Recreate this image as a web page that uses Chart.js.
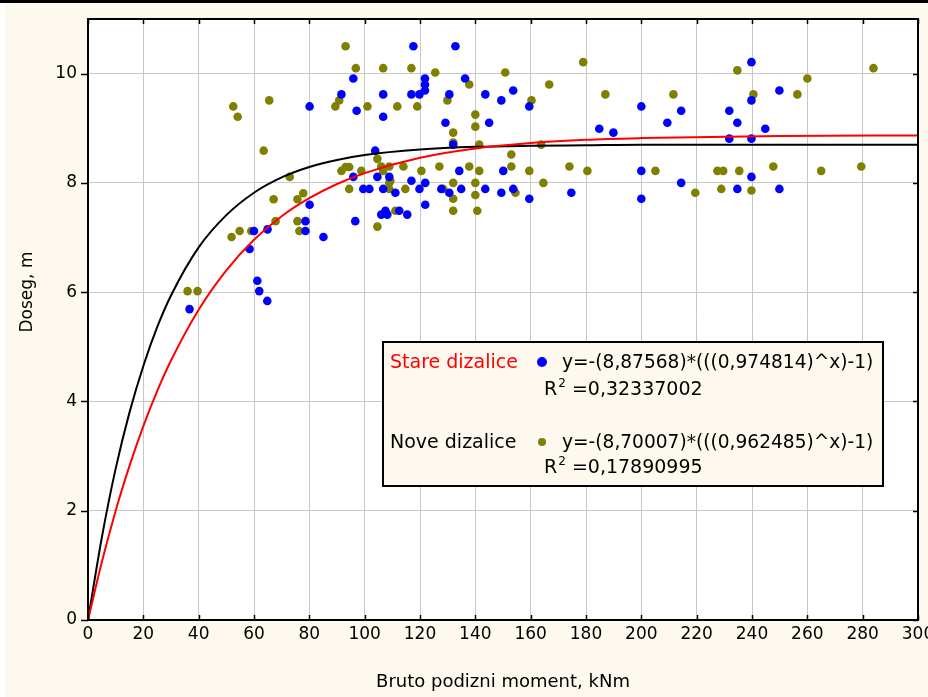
<!DOCTYPE html>
<html>
<head>
<meta charset="utf-8">
<script src="https://cdn.jsdelivr.net/npm/chart.js@4.4.1/dist/chart.umd.min.js"></script>
<style>
html, body { margin: 0; padding: 0; background: #fdf9ef; overflow: hidden; }
canvas { display: block; }
</style>
</head>
<body>
<canvas id="chart" width="928" height="697"></canvas>
<script>
// Stare dizalice (blue points)
var stareX = [95.9, 91.6, 80.1, 97.1, 95.9, 80.1, 78.6, 78.6, 85.1, 96.6, 60.0, 64.9, 58.4, 61.2, 61.9, 64.8, 36.7,
    117.6, 132.8, 121.8, 121.8, 121.8, 136.3, 106.7, 116.9, 119.8, 130.6, 143.6, 153.7, 149.4, 159.5, 106.7, 129.2, 145.0, 132.0, 103.8, 134.2, 150.1, 104.6, 108.9, 116.9, 121.9,
    99.5, 101.7, 106.7, 111.1, 119.8, 127.7, 130.6, 134.9, 143.6, 149.4, 153.7, 159.5, 121.9, 106.0, 107.5, 108.2, 112.5, 115.4,
    184.8, 189.9, 200.0, 209.4, 214.4, 200.0, 174.7, 200.0, 214.4,
    239.8, 249.9, 239.8, 231.8, 234.7, 244.8, 231.8, 239.8, 239.8, 234.7, 249.9];
var stareY = [9.91, 9.62, 9.40, 9.32, 8.11, 7.60, 7.30, 7.12, 7.01, 7.30, 7.12, 7.15, 6.79, 6.21, 6.02, 5.84, 5.69,
    10.50, 10.50, 9.91, 9.80, 9.69, 9.91, 9.62, 9.62, 9.62, 9.62, 9.62, 9.69, 9.51, 9.40, 9.21, 9.10, 9.10, 8.70, 8.59, 8.22, 8.22, 8.11, 8.11, 8.04, 8.00,
    7.89, 7.89, 7.89, 7.82, 7.89, 7.89, 7.82, 7.89, 7.89, 7.82, 7.89, 7.71, 7.60, 7.42, 7.49, 7.42, 7.49, 7.42,
    8.99, 8.92, 9.40, 9.10, 9.32, 8.22, 7.82, 7.71, 8.00,
    10.21, 9.69, 9.51, 9.32, 9.10, 8.99, 8.81, 8.81, 8.11, 7.89, 7.89];

// Nove dizalice (olive points)
var noveX = [93.1, 96.8, 52.5, 54.1, 65.5, 90.8, 89.4, 63.5, 72.9, 67.1, 75.7, 77.8, 91.6, 93.1, 94.4, 94.4, 67.8, 75.7, 76.4, 51.9, 54.8, 59.0, 36.0, 39.6,
    106.7, 116.9, 125.5, 150.8, 137.8, 129.9, 101.0, 111.8, 119.0, 160.3, 140.0, 140.0, 132.0, 132.0, 141.4, 153.0, 104.6, 153.0, 98.8, 106.0, 108.9, 106.7, 114.0, 120.5, 127.0, 137.8, 141.4, 159.5,
    108.9, 109.3, 108.9, 114.7, 128.4, 132.0, 132.0, 140.0, 140.0, 154.5, 111.1, 132.0, 140.7, 104.6,
    179.0, 166.7, 187.0, 211.6, 163.8, 174.0, 180.5, 205.1, 164.6, 219.5,
    234.7, 260.0, 283.9, 240.5, 256.4, 227.5, 229.6, 235.4, 247.7, 265.0, 279.5, 228.9, 239.8];
var noveY = [10.50, 10.10, 9.40, 9.21, 9.51, 9.51, 9.40, 8.59, 8.11, 7.70, 7.70, 7.81, 8.22, 8.29, 8.29, 7.89, 7.30, 7.30, 7.12, 7.01, 7.12, 7.12, 6.02, 6.02,
    10.10, 10.10, 10.02, 10.02, 9.80, 9.51, 9.40, 9.40, 9.40, 9.51, 9.25, 9.03, 8.92, 8.74, 8.70, 8.52, 8.44, 8.30, 8.22, 8.30, 8.30, 8.22, 8.30, 8.22, 8.30, 8.30, 8.22, 8.22,
    8.00, 8.04, 7.89, 7.89, 7.89, 8.00, 7.71, 8.00, 7.78, 7.82, 7.49, 7.49, 7.49, 7.20,
    10.21, 9.80, 9.62, 9.62, 8.70, 8.30, 8.22, 8.22, 8.00, 7.82,
    10.06, 9.91, 10.10, 9.62, 9.62, 8.22, 8.22, 8.22, 8.30, 8.22, 8.30, 7.89, 7.86];

// fitted curves, read along the red and black lines
var curveX     = [0, 5, 10, 15, 20, 25, 30, 40, 50, 60, 70, 80, 90, 100, 120, 140, 160, 180, 200, 250, 300];
var stareFitY  = [0, 1.06, 2.00, 2.82, 3.55, 4.19, 4.75, 5.68, 6.40, 6.96, 7.39, 7.72, 7.98, 8.18, 8.46, 8.63, 8.73, 8.79, 8.82, 8.86, 8.87];
var noveFitY   = [0, 1.51, 2.77, 3.80, 4.65, 5.36, 5.94, 6.82, 7.41, 7.82, 8.10, 8.29, 8.42, 8.51, 8.61, 8.66, 8.68, 8.69, 8.70, 8.70, 8.70];

var seriesNames = ['Stare dizalice', 'Nove dizalice'];
var equations = ['y=-(8,87568)*(((0,974814)^x)-1)', 'y=-(8,70007)*(((0,962485)^x)-1)'];
var r2Values = ['0,32337002', '0,17890995'];

var xTitle = 'Bruto podizni moment, kNm';
var yTitle = 'Doseg, m';

function pts(xs, ys) {
    var out = [];
    for (var i = 0; i < xs.length; i++) out.push({x: xs[i], y: ys[i]});
    return out;
}

var FONT = '"DejaVu Sans", "Liberation Sans", Arial, sans-serif';

var framePlugin = {
    id: 'frame',
    beforeDraw: function(chart) {
        var ctx = chart.ctx, a = chart.chartArea;
        ctx.save();
        ctx.fillStyle = '#fdf9ef';
        ctx.fillRect(0, 0, chart.width, chart.height);
        ctx.fillStyle = '#ffffff';
        ctx.fillRect(0, 0, 5, chart.height);
        ctx.fillRect(a.left, a.top, a.right - a.left, a.bottom - a.top);
        ctx.fillStyle = '#000000';
        ctx.fillRect(0, 0, chart.width, 3);
        ctx.restore();
    },
    afterDraw: function(chart) {
        var ctx = chart.ctx, a = chart.chartArea;
        var xs = chart.scales.x, ys = chart.scales.y;
        ctx.save();
        // plot frame
        ctx.strokeStyle = '#000';
        ctx.lineWidth = 2;
        ctx.strokeRect(a.left, a.top, a.right - a.left, a.bottom - a.top);
        // tick marks
        ctx.lineWidth = 1.5;
        ctx.beginPath();
        for (var v = 0; v <= 300; v += 20) {
            var px = Math.round(xs.getPixelForValue(v)) + 0.5;
            ctx.moveTo(px, a.bottom); ctx.lineTo(px, a.bottom - 5);
            ctx.moveTo(px, a.top); ctx.lineTo(px, a.top + 5);
        }
        for (var w = 0; w <= 10; w += 2) {
            var py = Math.round(ys.getPixelForValue(w)) + 0.5;
            ctx.moveTo(a.left, py); ctx.lineTo(a.left - 7, py);
            ctx.moveTo(a.right, py); ctx.lineTo(a.right - 5, py);
        }
        ctx.stroke();

        // y axis title
        ctx.fillStyle = '#000';
        ctx.font = '17px ' + FONT;
        ctx.textAlign = 'center';
        ctx.textBaseline = 'middle';
        ctx.translate(28, 292);
        ctx.rotate(-Math.PI / 2);
        ctx.fillText(yTitle, 0, 0);
        ctx.restore();

        // legend box
        ctx.save();
        ctx.fillStyle = '#fdf9ef';
        ctx.fillRect(383, 342, 500, 144);
        ctx.strokeStyle = '#000';
        ctx.lineWidth = 2;
        ctx.strokeRect(383, 342, 500, 144);
        ctx.textBaseline = 'middle';
        ctx.textAlign = 'left';
        var rows = [363, 443];
        var r2rows = [390, 468];
        var nameColors = ['#ff0000', '#000000'];
        var dotColors = ['#0000ff', '#808000'];
        var dotR = [5, 4];
        for (var i = 0; i < 2; i++) {
            ctx.font = '19px ' + FONT;
            ctx.fillStyle = nameColors[i];
            ctx.fillText(seriesNames[i], 390, rows[i]);
            ctx.fillStyle = dotColors[i];
            ctx.beginPath();
            ctx.arc(542, rows[i] - 1, dotR[i], 0, Math.PI * 2);
            ctx.fill();
            ctx.fillStyle = '#000';
            ctx.font = '18.6px ' + FONT;
            ctx.fillText(equations[i], 562, rows[i]);
            ctx.font = '19px ' + FONT;
            ctx.fillText('R', 544, r2rows[i]);
            var rw = ctx.measureText('R').width;
            ctx.font = '12px ' + FONT;
            ctx.fillText('2', 544 + rw + 1, r2rows[i] - 6);
            var sw = ctx.measureText('2').width;
            ctx.font = '19px ' + FONT;
            ctx.fillText(' =' + r2Values[i], 544 + rw + sw + 1, r2rows[i]);
        }
        ctx.restore();
    }
};

new Chart(document.getElementById('chart'), {
    type: 'scatter',
    data: {
        datasets: [
            {
                type: 'line',
                label: 'fit stare',
                data: pts(curveX, stareFitY),
                borderColor: '#ff0000',
                borderWidth: 2,
                pointRadius: 0,
                fill: false,
                cubicInterpolationMode: 'monotone'
            },
            {
                type: 'line',
                label: 'fit nove',
                data: pts(curveX, noveFitY),
                borderColor: '#000000',
                borderWidth: 2,
                pointRadius: 0,
                fill: false,
                cubicInterpolationMode: 'monotone'
            },
            {
                label: seriesNames[0],
                data: pts(stareX, stareY),
                backgroundColor: '#0000ff',
                borderWidth: 0,
                pointRadius: 4.3
            },
            {
                label: seriesNames[1],
                data: pts(noveX, noveY),
                backgroundColor: '#808000',
                borderWidth: 0,
                pointRadius: 4.3
            }
        ]
    },
    options: {
        responsive: false,
        animation: false,
        devicePixelRatio: 1,
        layout: { padding: { left: 0, right: 10, top: 19, bottom: 0 } },
        plugins: {
            legend: { display: false },
            tooltip: { enabled: false }
        },
        scales: {
            x: {
                type: 'linear',
                min: 0,
                max: 300,
                ticks: {
                    stepSize: 20,
                    padding: 4,
                    color: '#000',
                    maxRotation: 0,
                    font: { family: FONT, size: 17 }
                },
                grid: { color: '#c8c8c8', lineWidth: 1, drawTicks: false },
                border: { display: false },
                title: {
                    display: true,
                    text: xTitle,
                    color: '#000',
                    font: { family: FONT, size: 18 },
                    padding: { top: 0, bottom: 4 }
                },
                afterFit: function(s) { s.height = 77; s.paddingLeft = 0; s.paddingRight = 0; }
            },
            y: {
                type: 'linear',
                min: 0,
                max: 11,
                ticks: {
                    stepSize: 2,
                    padding: 11,
                    color: '#000',
                    font: { family: FONT, size: 17 }
                },
                afterBuildTicks: function(s) {
                    s.ticks = s.ticks.filter(function(t) { return t.value <= 10; });
                },
                grid: { color: '#c8c8c8', lineWidth: 1, drawTicks: false },
                border: { display: false },
                afterFit: function(s) { s.width = 88; s.paddingTop = 0; s.paddingBottom = 0; }
            }
        }
    },
    plugins: [framePlugin]
});
</script>
</body>
</html>
